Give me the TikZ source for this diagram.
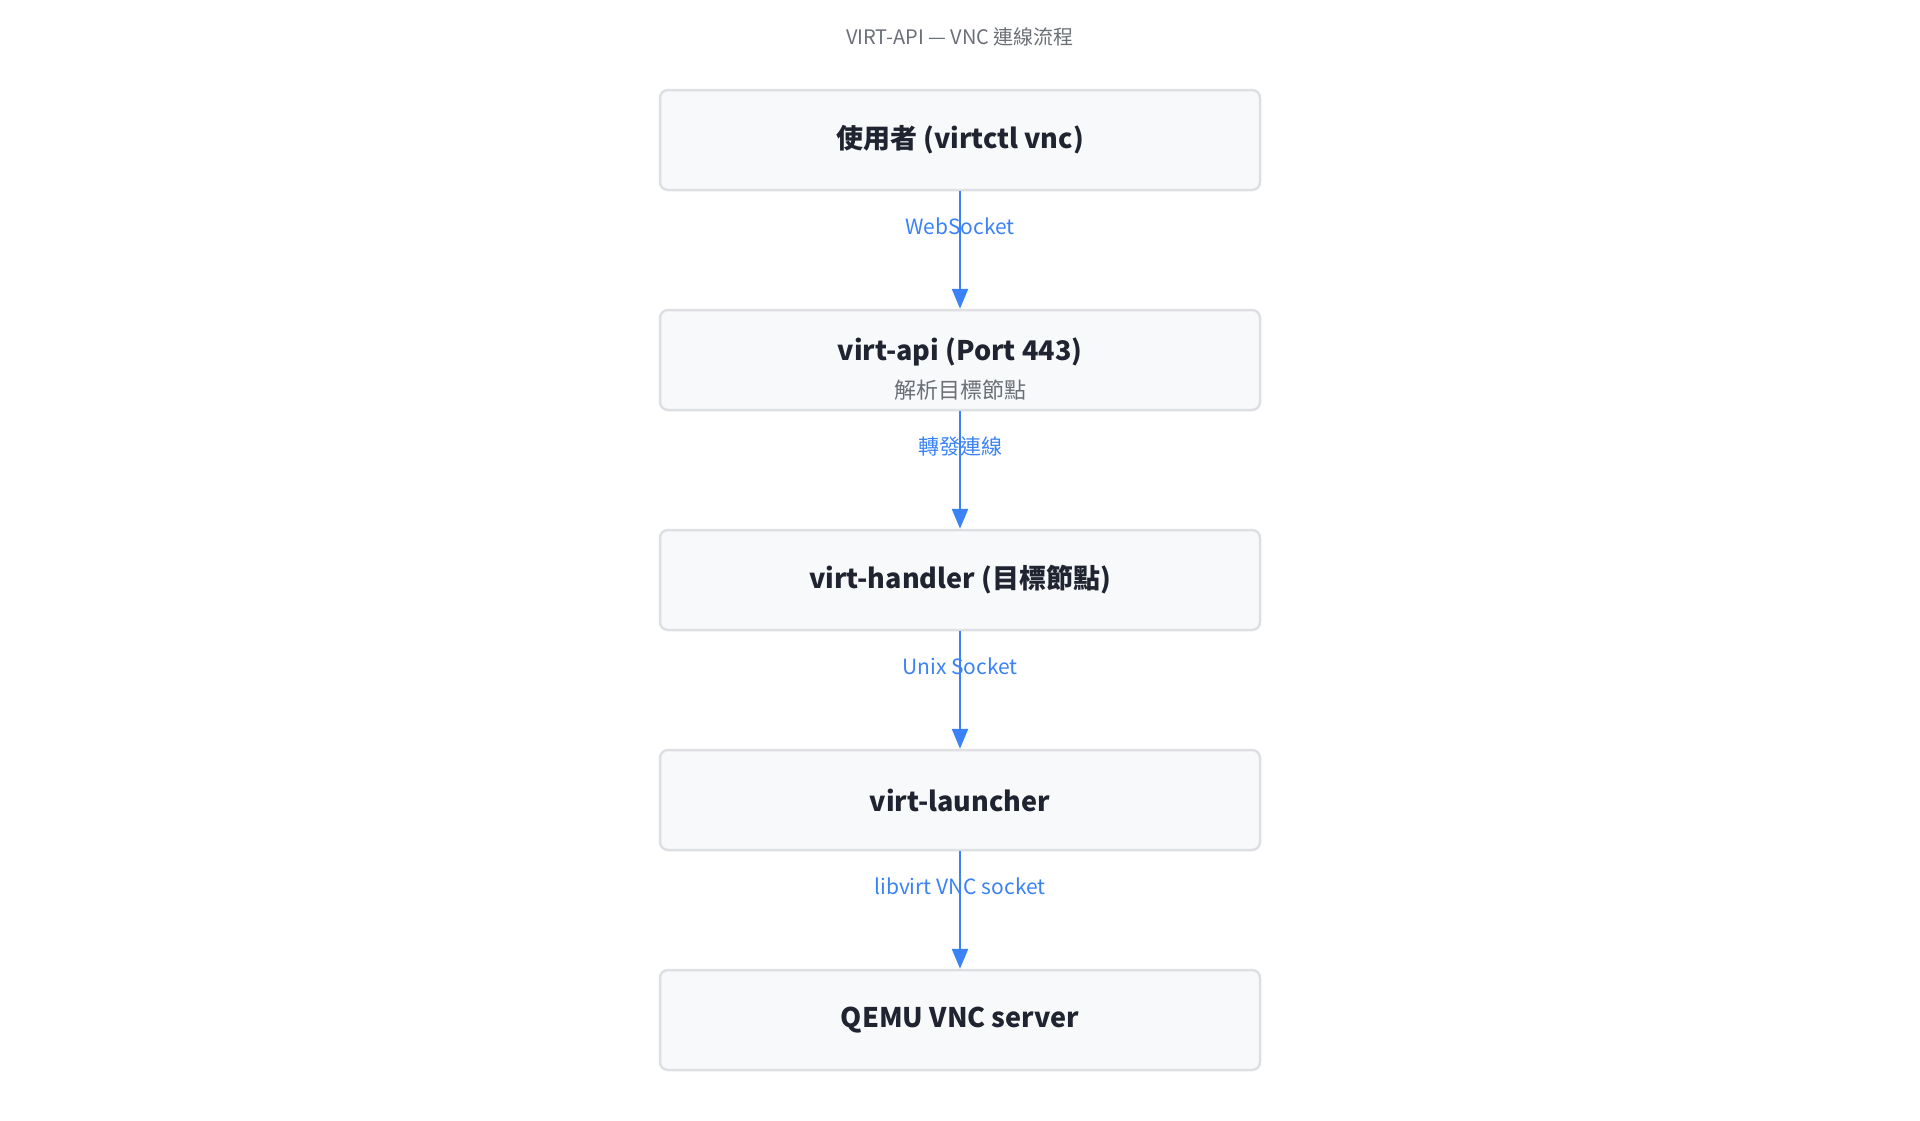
\documentclass[tikz,border=0pt]{standalone}
\usepackage{fontspec}
\setmainfont{Noto Sans CJK TC}
\usetikzlibrary{arrows.meta}
\definecolor{boxfill}{HTML}{F8F9FB}
\definecolor{boxline}{HTML}{DDDFE3}
\definecolor{arrowblue}{HTML}{3B82F6}
\definecolor{ink}{HTML}{1F2430}
\definecolor{sub}{HTML}{6B6F76}
\begin{document}
\begin{tikzpicture}[x=1pt,y=-1pt,
  box/.style={draw=boxline,line width=2.5pt,fill=boxfill,rounded corners=8pt,minimum width=600pt,minimum height=100pt,inner sep=0pt,align=center,text=ink,font=\fontsize{27}{32}\selectfont\bfseries},
  conn/.style={draw=arrowblue,line width=2.5pt,-{Triangle[length=20pt,width=16pt]}},
  lab/.style={text=arrowblue,font=\fontsize{21}{25}\selectfont,pos=0.3}]
\useasboundingbox (0,0) rectangle (1920,1120);
\node[text=sub,font=\fontsize{20}{24}\selectfont] (title) at (960,37) {VIRT-API — VNC 連線流程};
\node[box] (a) at (960,140) {使用者 (virtctl vnc)};
\node[box] (b) at (960,360) {};
\node[text=ink,font=\fontsize{27}{32}\selectfont\bfseries] (bt) at (960,352) {virt-api (Port 443)};
\node[text=sub,font=\fontsize{22}{26}\selectfont] (bs) at (960,390) {解析目標節點};
\node[box] (c) at (960,580) {virt-handler (目標節點)};
\node[box] (d) at (960,800) {virt-launcher};
\node[box] (e) at (960,1020) {QEMU VNC server};
\draw[conn] (a.south) -- node[lab]{WebSocket} (b.north);
\draw[conn] (b.south) -- node[lab]{轉發連線} (c.north);
\draw[conn] (c.south) -- node[lab]{Unix Socket} (d.north);
\draw[conn] (d.south) -- node[lab]{libvirt VNC socket} (e.north);
\end{tikzpicture}
\end{document}
